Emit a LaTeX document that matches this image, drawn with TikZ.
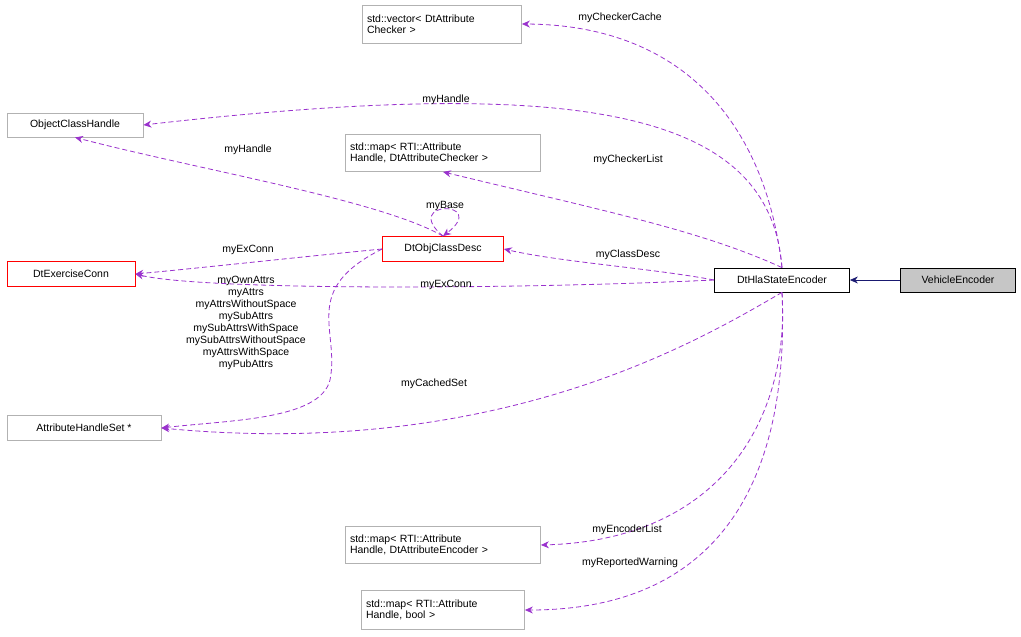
\documentclass[tikz,border=0pt]{standalone}
\usepackage{fontspec}
\setmainfont{Liberation Sans}
\usetikzlibrary{arrows.meta}
\definecolor{darkorchid}{HTML}{9A32CD}
\definecolor{navyblue}{HTML}{191970}
\begin{document}
\begin{tikzpicture}[x=1pt,y=-1pt,font=\fontsize{10.5}{11.5}\selectfont,
  box/.style={draw=gray!60,align=left,inner sep=3pt,anchor=center,line width=0.8pt},
  redbox/.style={draw=red,inner sep=3pt,line width=0.8pt},
  blkbox/.style={draw=black,inner sep=3pt,line width=0.8pt},
  use/.style={draw=darkorchid,line width=0.8pt,dash pattern=on 5pt off 3pt,-{Stealth[length=8pt,width=7pt]}},
  lbl/.style={align=center,inner sep=0pt}]
\useasboundingbox (0,0) rectangle (1021,637);
%nodes
\node[box,minimum width=159,minimum height=38,text width=150] (vec) at (442,24) {std::vector< DtAttribute\\Checker >};
\node[box,minimum width=136,minimum height=24] (och) at (75,125) {ObjectClassHandle};
\node[box,minimum width=195,minimum height=37,text width=186] (chk) at (443,153) {std::map< RTI::Attribute\\Handle, DtAttributeChecker >};
\node[redbox,minimum width=121,minimum height=25] (ocd) at (443,249) {DtObjClassDesc};
\node[redbox,minimum width=128,minimum height=25] (exc) at (71,274) {DtExerciseConn};
\node[blkbox,minimum width=135,minimum height=24] (hla) at (782,280) {DtHlaStateEncoder};
\node[blkbox,fill=gray!45,minimum width=115,minimum height=24] (veh) at (958,280) {VehicleEncoder};
\node[box,minimum width=154,minimum height=25] (ahs) at (84,428) {AttributeHandleSet *};
\node[box,minimum width=195,minimum height=37,text width=186] (enc) at (443,545) {std::map< RTI::Attribute\\Handle, DtAttributeEncoder >};
\node[box,minimum width=163,minimum height=39,text width=154] (bol) at (443,610) {std::map< RTI::Attribute\\Handle, bool >};
%edges
\draw[navyblue,line width=0.8pt,-{Stealth[length=8pt,width=7pt]}] (veh) -- (hla);
\draw[use] (hla.north) .. controls (765,120) and (680,25) .. (vec.east);
\draw[use] (hla.north) .. controls (770,110) and (580,75) .. (och.east);
\draw[use] (ocd.north) .. controls (380,200) and (200,170) .. (och.south);
\draw[use] (hla.north) .. controls (700,230) and (600,210) .. (chk.south);
\draw[use] (ocd.north) .. controls (400,200) and (490,200) .. (ocd.north);
\draw[use] (hla.west) .. controls (650,268) and (560,262) .. (ocd.east);
\draw[use] (ocd.west) .. controls (300,257) and (200,268) .. (exc.east);
\draw[use] (hla.west) .. controls (500,290) and (200,290) .. (exc.east);
\draw[use] (ocd.west) .. controls (300,290) and (340,330) .. (330,380)
  .. controls (320,420) and (230,420) .. (ahs.east);
\draw[use] (hla.south) .. controls (700,340) and (500,460) .. (ahs.east);
\draw[use] (hla.south) .. controls (790,420) and (720,540) .. (enc.east);
\draw[use] (hla.south) .. controls (790,480) and (720,610) .. (bol.east);
%labels
\node[lbl] (l1) at (620,18) {myCheckerCache};
\node[lbl] (l2) at (446,100) {myHandle};
\node[lbl] (l3) at (248,150) {myHandle};
\node[lbl] (l4) at (628,160) {myCheckerList};
\node[lbl] (l5) at (445,206) {myBase};
\node[lbl] (l6) at (628,255) {myClassDesc};
\node[lbl] (l7) at (248,250) {myExConn};
\node[lbl] (l8) at (446,285) {myExConn};
\node[lbl,font=\fontsize{10.5}{12.1}\selectfont] (l9) at (246,323) {myOwnAttrs\\myAttrs\\myAttrsWithoutSpace\\mySubAttrs\\mySubAttrsWithSpace\\mySubAttrsWithoutSpace\\myAttrsWithSpace\\myPubAttrs};
\node[lbl] (l10) at (434,384) {myCachedSet};
\node[lbl] (l11) at (627,530) {myEncoderList};
\node[lbl] (l12) at (630,563) {myReportedWarning};
\end{tikzpicture}
\end{document}
